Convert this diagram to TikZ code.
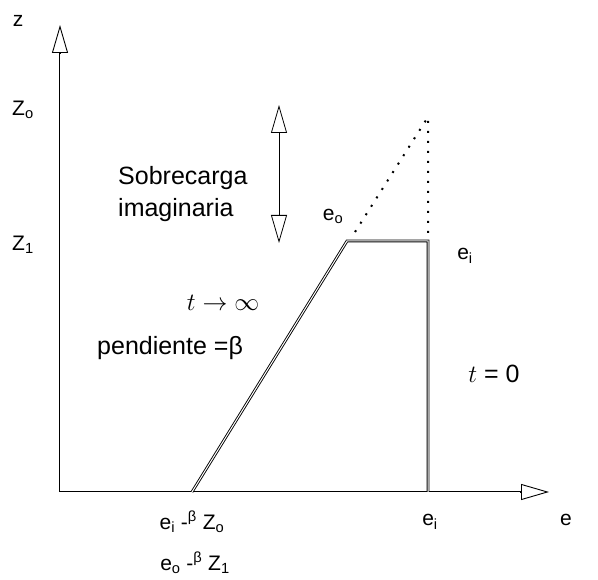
\documentclass[tikz,border=0pt]{standalone}
\usepackage{fontspec}
\setmainfont{Liberation Sans}
\usetikzlibrary{arrows.meta,positioning,calc}
\tikzset{
  axis/.style={draw=black, line width=2.6pt,
    -{Triangle[open, length=28pt, width=16pt, line width=0.9pt]},
    postaction={draw=white, line width=0.9pt, -, shorten >=29pt}},
  curve/.style={draw=black, line width=0.9pt, double=white, double distance=1pt},
  imag/.style={draw=black, line width=2pt, dash pattern=on 2pt off 8pt},
  load/.style={draw=black, line width=0.8pt,
    {Triangle[open, length=28pt, width=16pt]}-{Triangle[open, length=28pt, width=16pt]}},
  lbl/.style={font=\fontsize{25}{30}\selectfont, inner sep=0pt, align=left},
  tick/.style={font=\fontsize{21}{25}\selectfont, inner sep=0pt}
}
\begin{document}
\begin{tikzpicture}[x=1pt, y=-1pt]
    \useasboundingbox (0,0) rectangle (598,580);
    % puntos
    \coordinate (O) at (60,492);
    \coordinate (ztip) at (60,25);
    \coordinate (etip) at (549,492);
    \coordinate (A) at (192,492);
    \coordinate (B) at (347,241);
    \coordinate (C) at (428,241);
    \coordinate (D) at (428,492);
    \coordinate (P) at (428,117);
    \coordinate (Q) at (355,232);
    \coordinate (ltop) at (279,105);
    \coordinate (lbot) at (279,243);
    % ejes
    \draw[axis] (O) -- (ztip);
    \draw[axis] (O) -- (etip);
    % trayectoria
    \draw[curve] (A) -- (B) -- (C) -- (D);
    \draw[imag] (Q) -- (P) -- (C);
    \draw[load] (ltop) -- (lbot);
    % textos
    \node[tick] (zlab) at (18,21) {z};
    \node[tick] (z0) at (23,110) {Z\textsubscript{o}};
    \node[tick] (z1) at (23,245) {Z\textsubscript{1}};
    \node[tick] (elab) at (566,520) {e};
    \node[lbl, anchor=west] (sob) at (118,178) {Sobrecarga};
    \node[lbl, anchor=west] (ima) at (118,210) {imaginaria};
    \node[tick] (e0) at (333,216) {e\textsubscript{o}};
    \node[tick] (ei) at (465,256) {e\textsubscript{i}};
    \node[lbl] (tinf) at (223,303) {$t\rightarrow\infty$};
    \node[lbl, anchor=west] (pend) at (97,348) {pendiente =β};
    \node[lbl] (tcero) at (494,374) {$t$ = 0};
    \node[tick] (a1) at (192,522) {e\textsubscript{i} -\textsuperscript{β} Z\textsubscript{o}};
    \node[tick] (a2) at (195,563) {e\textsubscript{o} -\textsuperscript{β} Z\textsubscript{1}};
    \node[tick] (ei2) at (430,522) {e\textsubscript{i}};
\end{tikzpicture}
\end{document}
